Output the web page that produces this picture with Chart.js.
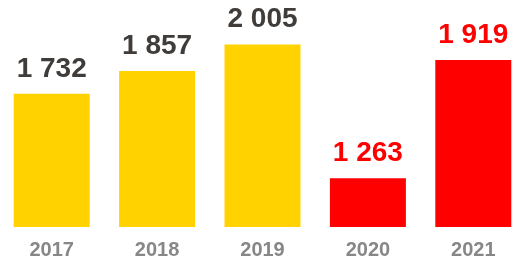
<!DOCTYPE html>
<html>
<head>
<meta charset="utf-8">
<script src="https://cdn.jsdelivr.net/npm/chart.js@4"></script>
<style>
  html, body { margin: 0; padding: 0; overflow: hidden; background: #fff; }
  #chart1 { position: absolute; left: -1px; top: 0; }
</style>
</head>
<body>
<canvas id="chart1" width="527" height="275"></canvas>
<script>
  // data
  const years = ['2017', '2018', '2019', '2020', '2021'];
  const values = [1732, 1857, 2005, 1263, 1919];

  // styles
  const barColors = ['#FFD200', '#FFD200', '#FFD200', '#FF0000', '#FF0000'];
  const labelColors = ['#403c39', '#403c39', '#403c39', '#FF0000', '#FF0000'];
  const fontFamily = '"Liberation Sans", Arial, sans-serif';

  // "1 732" style numbers
  const fmt = v => String(v).replace(/\B(?=(\d{3})+(?!\d))/g, ' ');

  const valueLabels = {
    id: 'valueLabels',
    afterDatasetsDraw(chart) {
      const c = chart.ctx;
      const meta = chart.getDatasetMeta(0);
      c.save();
      c.font = 'bold 28px ' + fontFamily;
      c.textAlign = 'center';
      c.textBaseline = 'alphabetic';
      meta.data.forEach((bar, i) => {
        c.fillStyle = labelColors[i];
        c.fillText(fmt(values[i]), bar.x, bar.y - 17);
      });
      c.restore();
    }
  };

  const ctx = document.getElementById('chart1').getContext('2d');

  const chart1 = new Chart(ctx, {
    type: 'bar',
    data: {
      labels: years,
      datasets: [{
        data: values,
        backgroundColor: barColors,
        borderWidth: 0,
        categoryPercentage: 1,
        barPercentage: 0.721
      }]
    },
    options: {
      responsive: false,
      animation: false,
      layout: { padding: { top: 11, bottom: 2, left: 0, right: 0 } },
      plugins: {
        legend: { display: false },
        tooltip: { enabled: false }
      },
      scales: {
        x: {
          grid: { display: false, drawTicks: false },
          border: { display: false },
          ticks: {
            padding: 11,
            color: '#878787',
            font: { family: fontFamily, size: 20, weight: 'bold' }
          }
        },
        y: {
          display: false,
          min: 993,
          max: 2190
        }
      }
    },
    plugins: [valueLabels]
  });
</script>
</body>
</html>
